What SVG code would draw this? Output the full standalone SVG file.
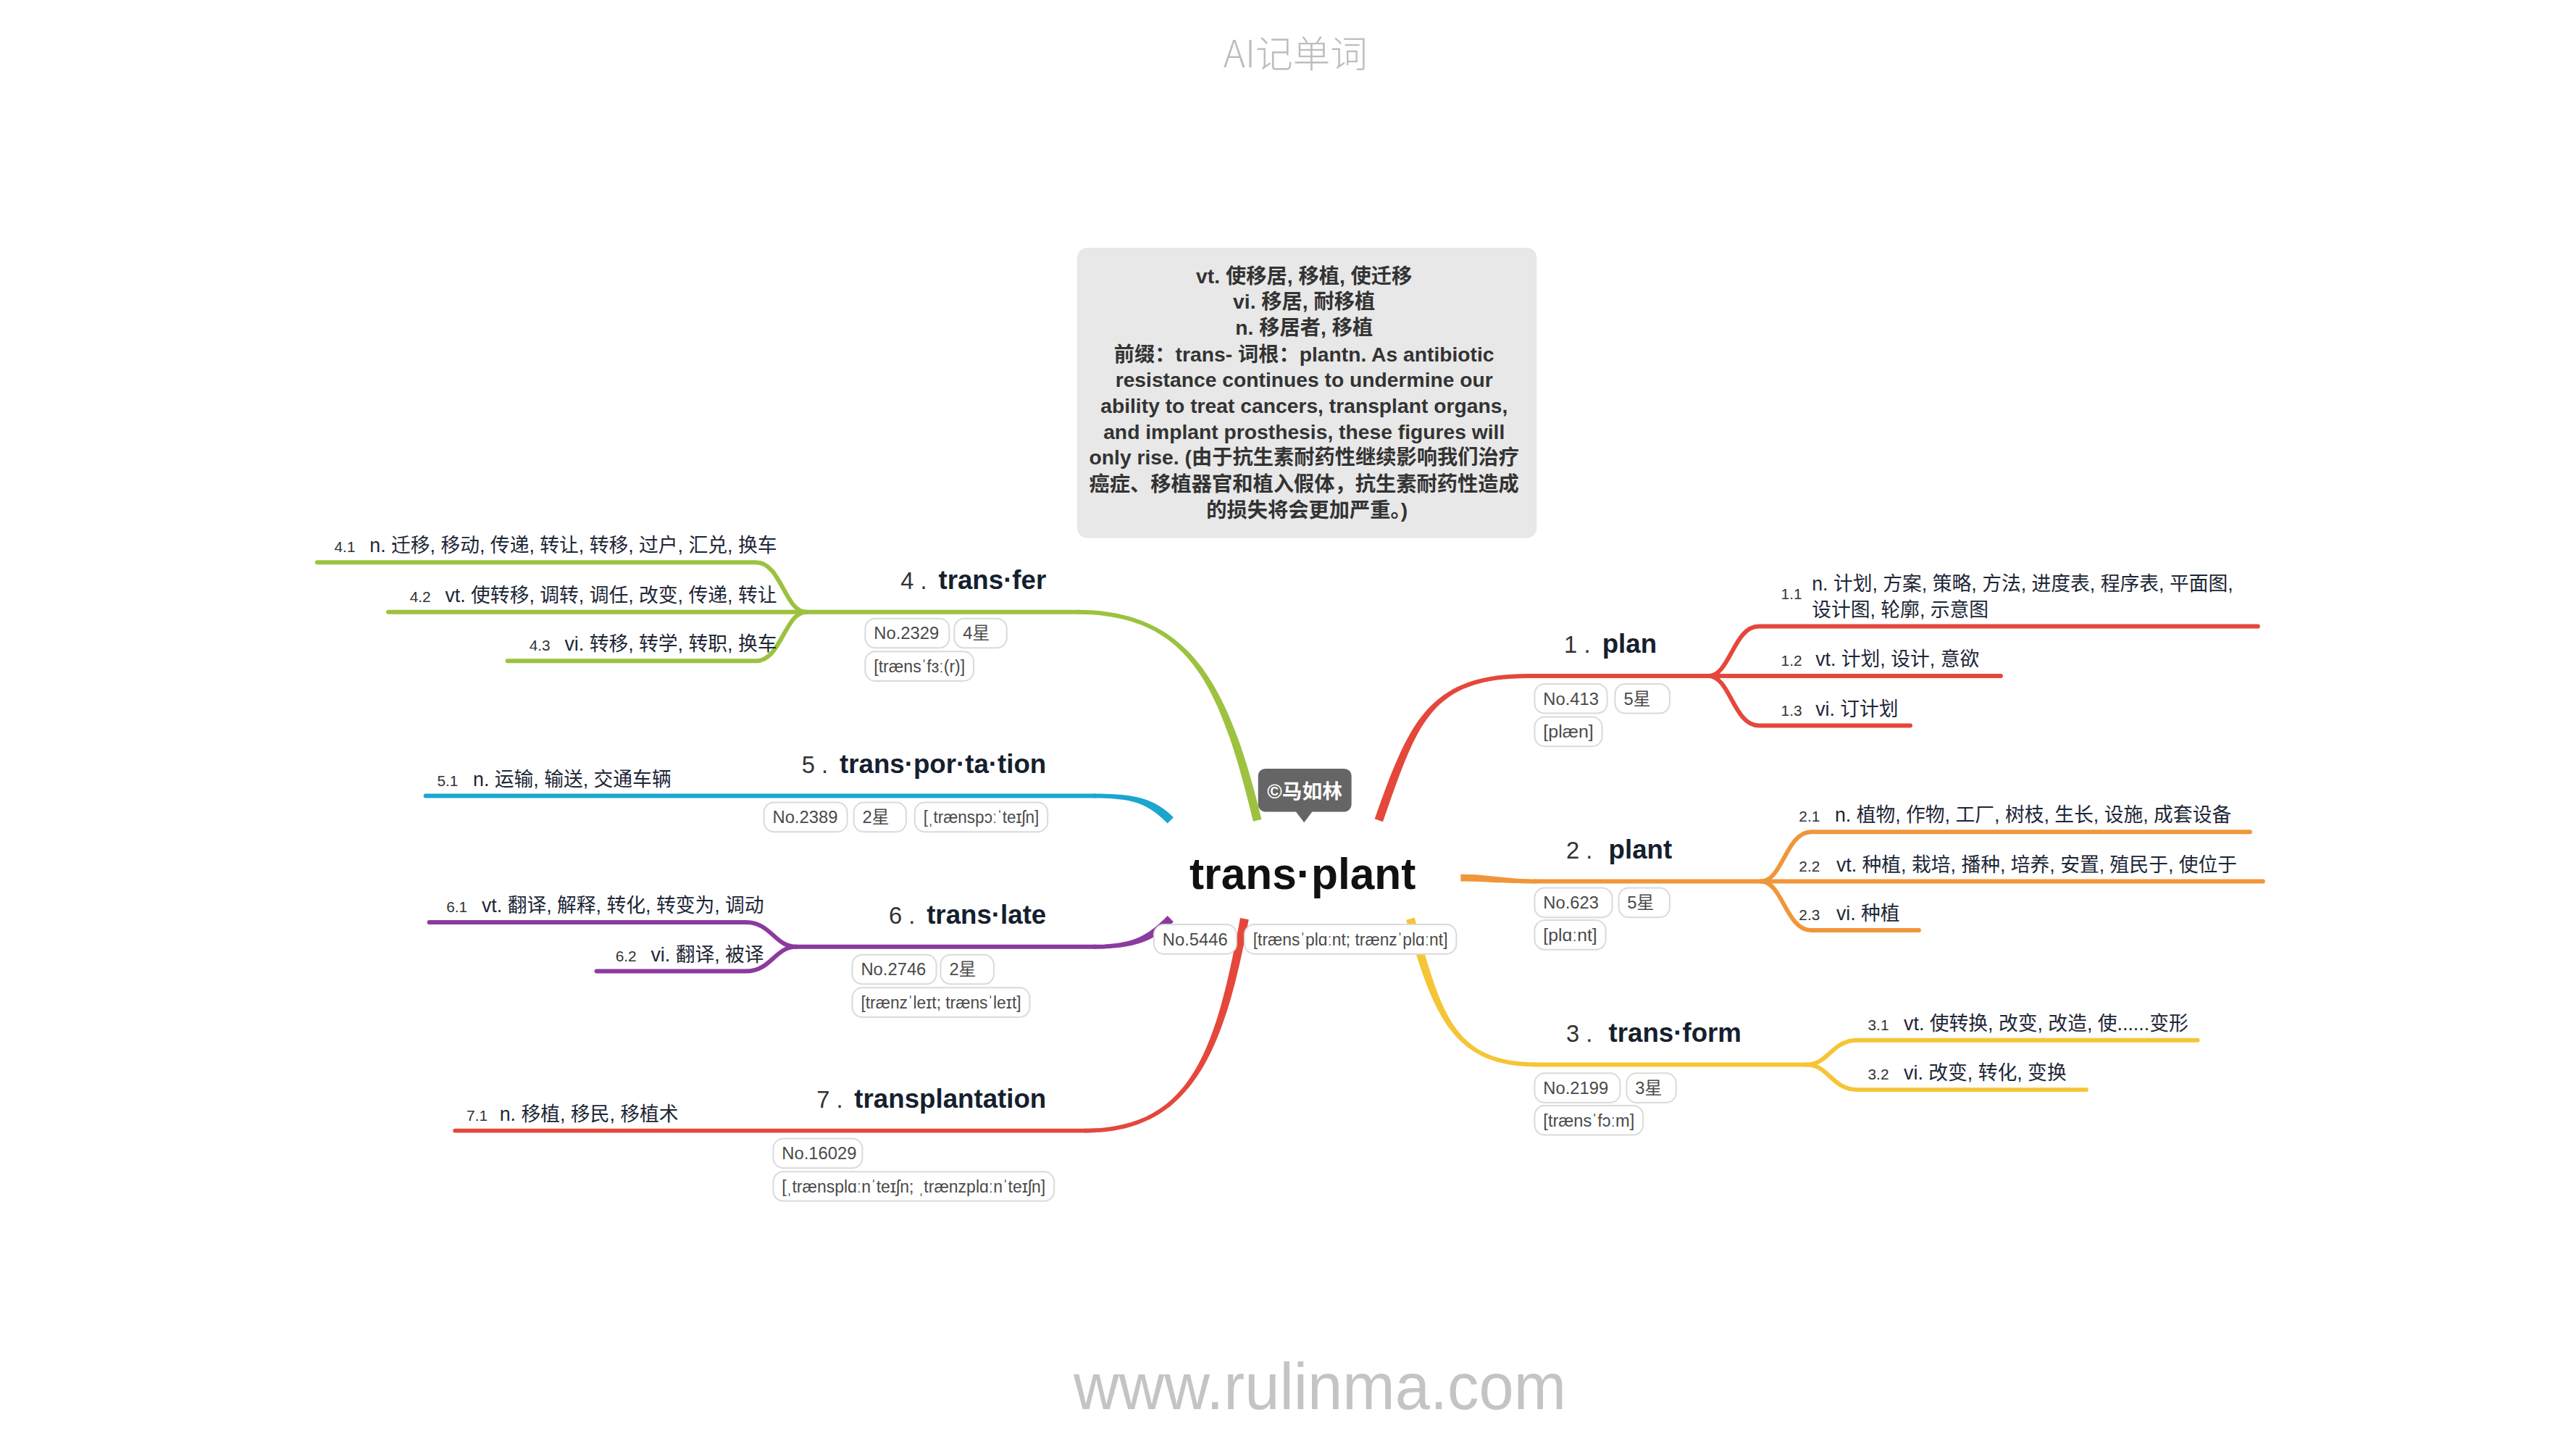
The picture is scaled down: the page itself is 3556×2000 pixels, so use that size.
<svg xmlns="http://www.w3.org/2000/svg" width="3556" height="2000" viewBox="0 0 3556 2000">
<style>
text{font-family:"Liberation Sans","Noto Sans CJK SC",sans-serif;}
.title{font-family:"Noto Sans CJK SC","Liberation Sans",sans-serif;font-size:52px;font-weight:300;fill:#bdbdbd;}
.footer{font-size:92px;fill:#c4c4c4;}
.note{font-size:28.5px;font-weight:700;fill:#333;}
.center{font-size:61px;font-weight:700;fill:#111;}
.lbl{font-size:37px;font-weight:700;fill:#15202e;}
.lnum{font-size:33px;font-weight:400;fill:#333;}
.sub{font-size:27px;fill:#1d2636;}
.num{font-size:21px;fill:#333;}
.pill rect{fill:#fff;stroke:#dadada;stroke-width:2;}
.pill text{font-size:24px;fill:#4a4a4a;}
.ln{fill:none;stroke-linecap:round;}
</style>
<rect width="3556" height="2000" fill="#fff"/>
<g id="diagram" transform="matrix(0.9915 0 0 0.9915 3.6 0)">
<text class="title" x="1800" y="94" text-anchor="middle">AI记单词</text>
<text class="footer" x="1834" y="1962" text-anchor="middle" textLength="686" lengthAdjust="spacingAndGlyphs">www.rulinma.com</text>

<g id="connectors">
  <g id="c-plan">
    <path d="M 1921.7 1144 C 1969.7 1007 1987 944 2124 944 L 2124 938 C 1987 938 1958.3 1003 1910.3 1140 Z" fill="#e5473b"/>
    <g class="ln" stroke="#e5473b" stroke-width="6">
      <path d="M 2122 941 H 2782"/>
      <path d="M 2375 941 C 2405 941 2410 872 2445 872 H 3140"/>
      <path d="M 2375 941 C 2405 941 2410 1010 2445 1010 H 2656"/>
    </g>
  </g>
  <g id="c-plant">
    <path d="M 2030 1217 C 2070 1217 2090 1224 2136 1224 L 2136 1230 C 2090 1230 2070 1227 2030 1227 Z" fill="#f0963a"/>
    <g class="ln" stroke="#f0963a" stroke-width="6">
      <path d="M 2134 1227 H 3147"/>
      <path d="M 2448 1227 C 2478 1227 2483 1158 2518 1158 H 3129"/>
      <path d="M 2448 1227 C 2478 1227 2483 1295 2518 1295 H 2668"/>
    </g>
  </g>
  <g id="c-transform">
    <path d="M 1965.8 1277.4 C 2003.8 1414.4 2021 1479 2136 1479 L 2136 1485 C 2021 1485 1992.2 1417.6 1954.2 1280.6 Z" fill="#f5c537"/>
    <g class="ln" stroke="#f5c537" stroke-width="6">
      <path d="M 2134 1482 H 2512"/>
      <path d="M 2512 1482 C 2542 1482 2547 1448 2582 1448 H 3056"/>
      <path d="M 2512 1482 C 2542 1482 2547 1517 2582 1517 H 2901"/>
    </g>
  </g>
  <g id="c-transfer">
    <path d="M 1752.8 1140.6 C 1707.8 957.6 1656 849 1496 849 L 1496 855 C 1656 855 1696.2 960.4 1741.2 1143.4 Z" fill="#9cc23f"/>
    <g class="ln" stroke="#9cc23f" stroke-width="6">
      <path d="M 1498 852 H 537"/>
      <path d="M 1119 852 C 1089 852 1084 783 1049 783 H 438"/>
      <path d="M 1119 852 C 1089 852 1084 920 1049 920 H 703"/>
    </g>
  </g>
  <g id="c-transportation">
    <path d="M 1630.2 1137.8 C 1603.2 1110.8 1576 1105 1519 1105 L 1519 1111 C 1576 1111 1594.8 1119.2 1621.8 1146.2 Z" fill="#1aa6cf"/>
    <g class="ln" stroke="#1aa6cf" stroke-width="6">
      <path d="M 1521 1108 H 589"/>
    </g>
  </g>
  <g id="c-translate">
    <path d="M 1630.2 1283.2 C 1603.2 1310.2 1576 1321 1519 1321 L 1519 1315 C 1576 1315 1594.8 1301.8 1621.8 1274.8 Z" fill="#8b3a9e"/>
    <g class="ln" stroke="#8b3a9e" stroke-width="6">
      <path d="M 1521 1318 H 1105"/>
      <path d="M 1105 1318 C 1075 1318 1070 1284 1035 1284 H 594"/>
      <path d="M 1105 1318 C 1075 1318 1070 1352 1035 1352 H 827"/>
    </g>
  </g>
  <g id="c-transplantation">
    <path d="M 1734.9 1280.1 C 1700.9 1463.1 1656 1577 1507 1577 L 1507 1571 C 1656 1571 1689.1 1460.9 1723.1 1277.9 Z" fill="#e5473b"/>
    <g class="ln" stroke="#e5473b" stroke-width="6">
      <path d="M 1509 1574 H 630"/>
    </g>
  </g>
</g>

<g id="note">
  <rect x="1496" y="345" width="640" height="404" rx="14" fill="#e8e8e8"/>
  <text class="note" text-anchor="middle">
    <tspan x="1816" y="394">vt. 使移居, 移植, 使迁移</tspan>
    <tspan x="1816" y="430">vi. 移居, 耐移植</tspan>
    <tspan x="1816" y="466">n. 移居者, 移植</tspan>
    <tspan x="1816" y="503">前缀：trans- 词根：plantn. As antibiotic</tspan>
    <tspan x="1816" y="539">resistance continues to undermine our</tspan>
    <tspan x="1816" y="575">ability to treat cancers, transplant organs,</tspan>
    <tspan x="1816" y="611">and implant prosthesis, these figures will</tspan>
    <tspan x="1816" y="647">only rise. (由于抗生素耐药性继续影响我们治疗</tspan>
    <tspan x="1816" y="684">癌症、移植器官和植入假体，抗生素耐药性造成</tspan>
    <tspan x="1816" y="720">的损失将会更加严重。)</tspan>
  </text>
</g>

<g id="badge">
  <rect x="1748" y="1070" width="130" height="60" rx="10" fill="#656565"/>
  <path d="M 1800 1129 L 1824 1129 L 1812 1145 Z" fill="#656565"/>
  <text x="1813" y="1111" text-anchor="middle" font-size="28" font-weight="700" fill="#fff">©马如林</text>
</g>

<g id="central">
  <text class="center" x="1810" y="1238" text-anchor="middle">trans·plant</text>
  <g class="pill">
    <rect x="1603" y="1287" width="115" height="41" rx="14"/><text x="1615" y="1316">No.5446</text>
    <rect x="1729" y="1287" width="295" height="41" rx="14"/><text x="1741" y="1316" textLength="271" lengthAdjust="spacingAndGlyphs">[trænsˈplɑːnt; trænzˈplɑːnt]</text>
  </g>
</g>

<g id="topic-1">
  <text class="lnum" x="2174" y="909">1 .</text>
  <text class="lbl" x="2227" y="909">plan</text>
  <g class="pill">
    <rect x="2133" y="952" width="101" height="41" rx="14"/><text x="2145" y="981">No.413</text>
    <rect x="2245" y="952" width="76" height="41" rx="14"/><text x="2257" y="981">5星</text>
    <rect x="2133" y="998" width="94" height="41" rx="14"/><text x="2145" y="1027" textLength="70" lengthAdjust="spacingAndGlyphs">[plæn]</text>
  </g>
</g>
<g id="sub-1-1">
  <text class="num" x="2476" y="834">1.1</text>
  <text class="sub"><tspan x="2519" y="822">n. 计划, 方案, 策略, 方法, 进度表, 程序表, 平面图,</tspan><tspan x="2519" y="858">设计图, 轮廓, 示意图</tspan></text>
</g>
<g id="sub-1-2">
  <text class="num" x="2476" y="927">1.2</text>
  <text class="sub" x="2524" y="927">vt. 计划, 设计, 意欲</text>
</g>
<g id="sub-1-3">
  <text class="num" x="2476" y="996">1.3</text>
  <text class="sub" x="2524" y="996">vi. 订计划</text>
</g>

<g id="topic-2">
  <text class="lnum" x="2177" y="1195">2 .</text>
  <text class="lbl" x="2236" y="1195">plant</text>
  <g class="pill">
    <rect x="2133" y="1236" width="108" height="41" rx="14"/><text x="2145" y="1265">No.623</text>
    <rect x="2250" y="1236" width="71" height="41" rx="14"/><text x="2262" y="1265">5星</text>
    <rect x="2133" y="1281" width="99" height="41" rx="14"/><text x="2145" y="1310" textLength="75" lengthAdjust="spacingAndGlyphs">[plɑːnt]</text>
  </g>
</g>
<g id="sub-2-1">
  <text class="num" x="2501" y="1144">2.1</text>
  <text class="sub" x="2551" y="1144">n. 植物, 作物, 工厂, 树枝, 生长, 设施, 成套设备</text>
</g>
<g id="sub-2-2">
  <text class="num" x="2501" y="1213">2.2</text>
  <text class="sub" x="2553" y="1213">vt. 种植, 栽培, 播种, 培养, 安置, 殖民于, 使位于</text>
</g>
<g id="sub-2-3">
  <text class="num" x="2501" y="1281">2.3</text>
  <text class="sub" x="2553" y="1281">vi. 种植</text>
</g>

<g id="topic-3">
  <text class="lnum" x="2177" y="1450">3 .</text>
  <text class="lbl" x="2236" y="1450">trans·form</text>
  <g class="pill">
    <rect x="2133" y="1494" width="119" height="41" rx="14"/><text x="2145" y="1523">No.2199</text>
    <rect x="2261" y="1494" width="69" height="41" rx="14"/><text x="2273" y="1523">3星</text>
    <rect x="2133" y="1539" width="151" height="41" rx="14"/><text x="2145" y="1568" textLength="127" lengthAdjust="spacingAndGlyphs">[trænsˈfɔːm]</text>
  </g>
</g>
<g id="sub-3-1">
  <text class="num" x="2597" y="1434">3.1</text>
  <text class="sub" x="2647" y="1434">vt. 使转换, 改变, 改造, 使......变形</text>
</g>
<g id="sub-3-2">
  <text class="num" x="2597" y="1503">3.2</text>
  <text class="sub" x="2647" y="1503">vi. 改变, 转化, 变换</text>
</g>

<g id="topic-4">
  <text x="1453" y="820" text-anchor="end"><tspan class="lnum">4 .</tspan><tspan class="lbl" dx="16">trans·fer</tspan></text>
  <g class="pill">
    <rect x="1201" y="861" width="117" height="41" rx="14"/><text x="1213" y="890">No.2329</text>
    <rect x="1325" y="861" width="73" height="41" rx="14"/><text x="1337" y="890">4星</text>
    <rect x="1201" y="907" width="151" height="41" rx="14"/><text x="1213" y="936" textLength="127" lengthAdjust="spacingAndGlyphs">[trænsˈfɜː(r)]</text>
  </g>
</g>
<g id="sub-4-1">
  <text x="1078" y="769" text-anchor="end"><tspan class="num">4.1</tspan><tspan class="sub" dx="20">n. 迁移, 移动, 传递, 转让, 转移, 过户, 汇兑, 换车</tspan></text>
</g>
<g id="sub-4-2">
  <text x="1078" y="838" text-anchor="end"><tspan class="num">4.2</tspan><tspan class="sub" dx="20">vt. 使转移, 调转, 调任, 改变, 传递, 转让</tspan></text>
</g>
<g id="sub-4-3">
  <text x="1078" y="906" text-anchor="end"><tspan class="num">4.3</tspan><tspan class="sub" dx="20">vi. 转移, 转学, 转职, 换车</tspan></text>
</g>

<g id="topic-5">
  <text x="1453" y="1076" text-anchor="end"><tspan class="lnum">5 .</tspan><tspan class="lbl" dx="16">trans·por·ta·tion</tspan></text>
  <g class="pill">
    <rect x="1060" y="1117" width="116" height="41" rx="14"/><text x="1072" y="1146">No.2389</text>
    <rect x="1185" y="1117" width="73" height="41" rx="14"/><text x="1197" y="1146">2星</text>
    <rect x="1270" y="1117" width="185" height="41" rx="14"/><text x="1282" y="1146" textLength="161" lengthAdjust="spacingAndGlyphs">[ˌtrænspɔːˈteɪʃn]</text>
  </g>
</g>
<g id="sub-5-1">
  <text class="num" x="605" y="1094">5.1</text>
  <text class="sub" x="655" y="1094">n. 运输, 输送, 交通车辆</text>
</g>

<g id="topic-6">
  <text x="1453" y="1286" text-anchor="end"><tspan class="lnum">6 .</tspan><tspan class="lbl" dx="16">trans·late</tspan></text>
  <g class="pill">
    <rect x="1183" y="1329" width="117" height="41" rx="14"/><text x="1195" y="1358">No.2746</text>
    <rect x="1306" y="1329" width="74" height="41" rx="14"/><text x="1318" y="1358">2星</text>
    <rect x="1183" y="1375" width="247" height="41" rx="14"/><text x="1195" y="1404" textLength="223" lengthAdjust="spacingAndGlyphs">[trænzˈleɪt; trænsˈleɪt]</text>
  </g>
</g>
<g id="sub-6-1">
  <text x="1060" y="1270" text-anchor="end"><tspan class="num">6.1</tspan><tspan class="sub" dx="20">vt. 翻译, 解释, 转化, 转变为, 调动</tspan></text>
</g>
<g id="sub-6-2">
  <text x="1060" y="1338" text-anchor="end"><tspan class="num">6.2</tspan><tspan class="sub" dx="20">vi. 翻译, 被译</tspan></text>
</g>

<g id="topic-7">
  <text x="1453" y="1542" text-anchor="end"><tspan class="lnum">7 .</tspan><tspan class="lbl" dx="16">transplantation</tspan></text>
  <g class="pill">
    <rect x="1073" y="1585" width="124" height="41" rx="14"/><text x="1085" y="1614">No.16029</text>
    <rect x="1073" y="1631" width="391" height="41" rx="14"/><text x="1085" y="1660" textLength="367" lengthAdjust="spacingAndGlyphs">[ˌtrænsplɑːnˈteɪʃn; ˌtrænzplɑːnˈteɪʃn]</text>
  </g>
</g>
<g id="sub-7-1">
  <text class="num" x="646" y="1560">7.1</text>
  <text class="sub" x="692" y="1560">n. 移植, 移民, 移植术</text>
</g>
</g>
</svg>
